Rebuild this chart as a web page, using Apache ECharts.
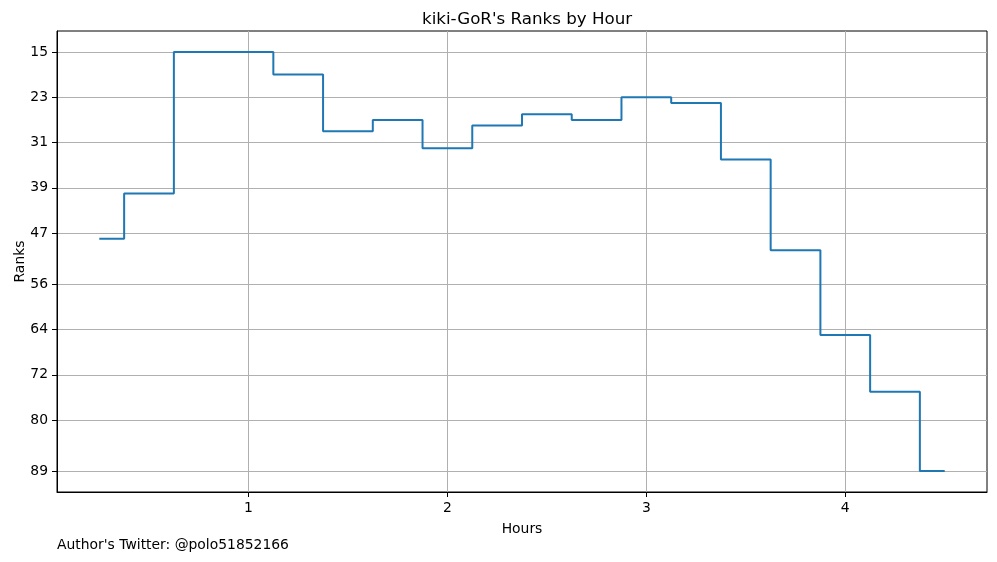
<!DOCTYPE html>
<html>
<head>
<meta charset="utf-8">
<script src="https://cdn.jsdelivr.net/npm/echarts@6/dist/echarts.min.js"></script>
<style>
html,body{margin:0;padding:0;background:#fff;}
#chart{width:997px;height:562px;}
</style>
</head>
<body>
<div id="chart"></div>
<script>
const hours = [0.25,0.5,0.75,1.0,1.25,1.5,1.75,2.0,2.25,2.5,2.75,3.0,3.25,3.5,3.75,4.0,4.25,4.5];
const ranks = [48,40,15,15,19,29,27,32,28,26,27,23,24,34,50,65,75,89];
const xTicks = [1,2,3,4];
const yTicks = [15,23,31,39,47,56,64,72,80,89];

const FONT = 'DejaVu Sans';
const chart = echarts.init(document.getElementById('chart'), null, {renderer:'canvas'});
const data = hours.map((h,i)=>[h, ranks[i]]);

chart.setOption({
  animation:false,
  backgroundColor:'#fff',
  textStyle:{fontFamily:FONT},
  title:{
    text:"kiki-GoR's Ranks by Hour",
    left:417, top:6,
    textStyle:{fontFamily:FONT,fontSize:16.7,fontWeight:'normal',color:'#000'}
  },
  grid:{left:57,right:10,top:31,bottom:70,show:true,borderColor:'#000',borderWidth:1,backgroundColor:'transparent',
        containLabel:false,outerBoundsMode:'none'},
  xAxis:{
    type:'value', min:0.0375, max:4.7125,
    name:'Hours', nameLocation:'middle', nameGap:30, nameMoveOverlap:false,
    nameTextStyle:{fontFamily:FONT,fontSize:13.9,color:'#000'},
    axisLine:{show:true,onZero:false,lineStyle:{color:'#000',width:1}},
    axisTick:{show:true,inside:false,length:5,lineStyle:{color:'#000',width:1},customValues:xTicks},
    axisLabel:{color:'#000',fontFamily:FONT,fontSize:13.9,margin:9,customValues:xTicks},
    splitLine:{show:true,lineStyle:{color:'#b0b0b0',width:1}}
  },
  yAxis:{
    type:'value', inverse:true, min:11.3, max:92.7,
    name:'Ranks', nameLocation:'middle', nameGap:30, nameRotate:90, nameMoveOverlap:false,
    nameTextStyle:{fontFamily:FONT,fontSize:13.9,color:'#000'},
    axisLine:{show:true,onZero:false,lineStyle:{color:'#000',width:1}},
    axisTick:{show:true,inside:false,length:5,lineStyle:{color:'#000',width:1},customValues:yTicks},
    axisLabel:{color:'#000',fontFamily:FONT,fontSize:13.9,margin:9,customValues:yTicks},
    splitLine:{show:true,lineStyle:{color:'#b0b0b0',width:1}}
  },
  graphic:[{
    type:'text', left:57, top:538,
    style:{text:"Author's Twitter: @polo51852166", fill:'#000', font:'13.9px "DejaVu Sans"'}
  }],
  series:[{
    type:'line', data:data, step:'middle', showSymbol:false, symbol:'none',
    lineStyle:{color:'#1f77b4',width:2}, z:5
  }]
});
</script>
</body>
</html>
